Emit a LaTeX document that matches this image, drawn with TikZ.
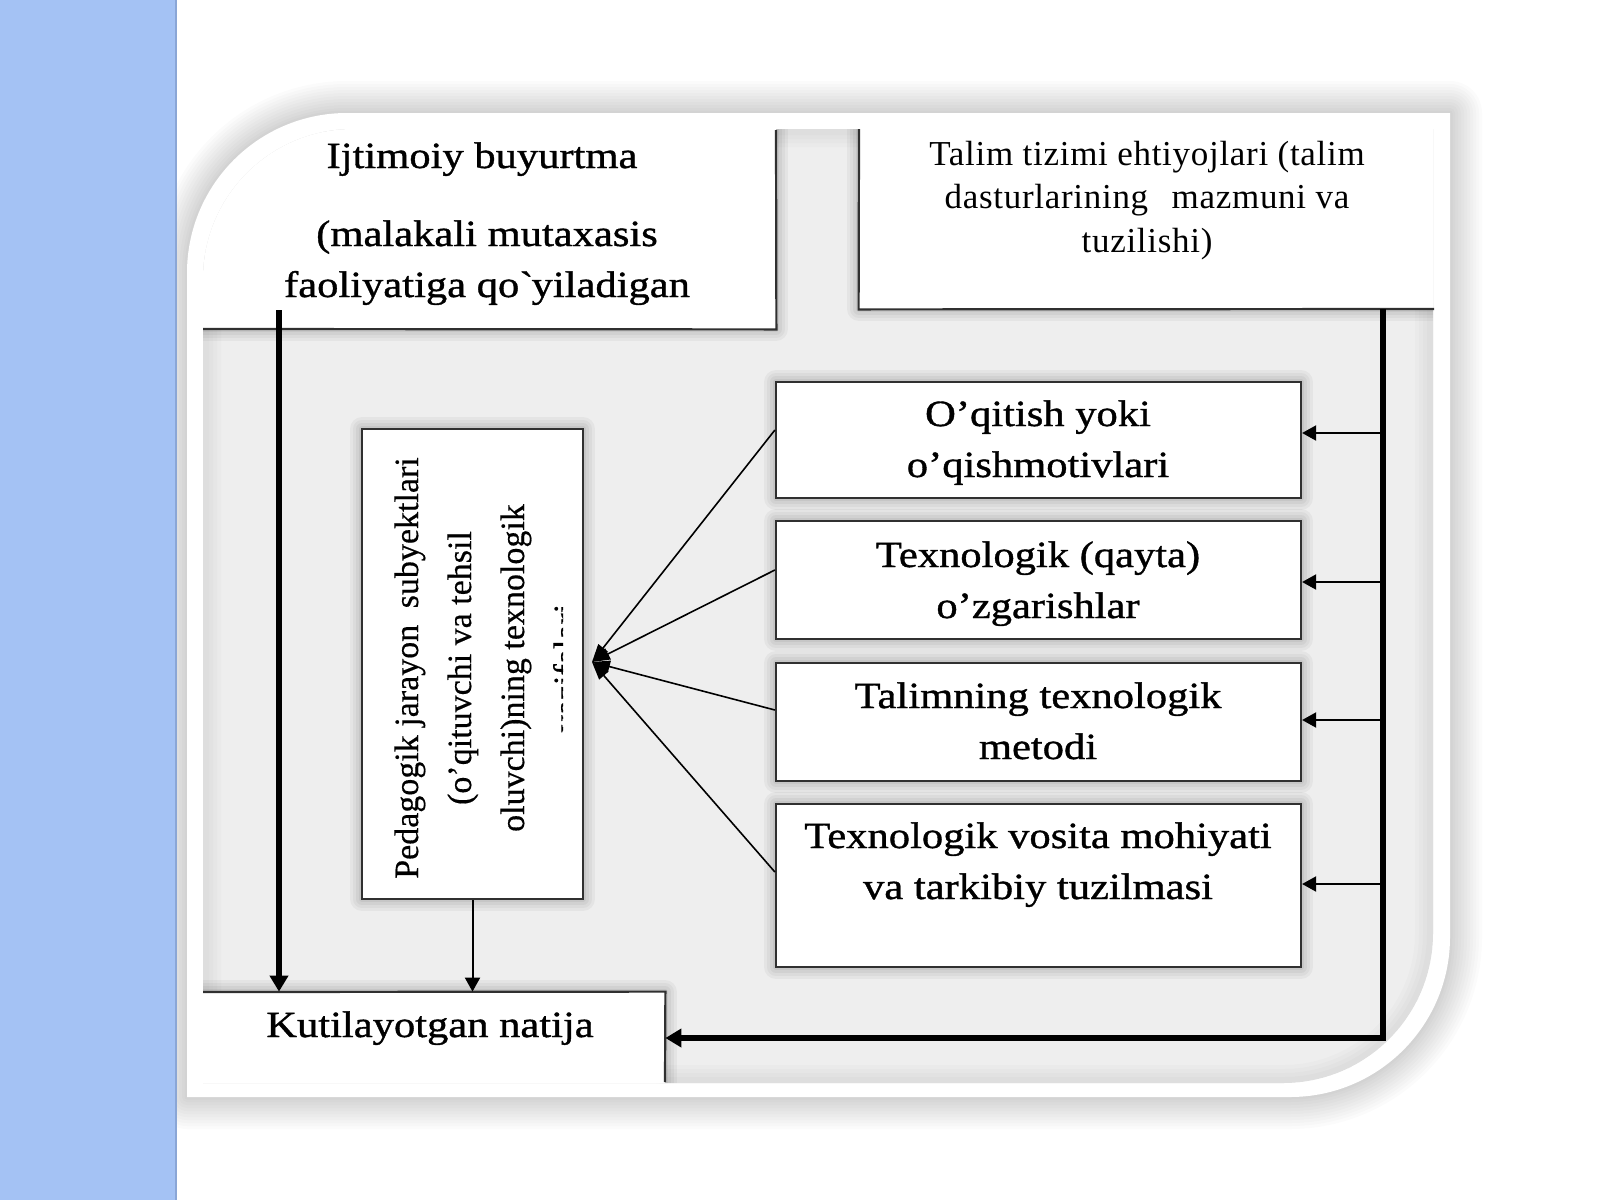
\documentclass[tikz,border=0pt]{standalone}
\usepackage{fontspec}
\setmainfont{Liberation Serif}
\newfontfamily\mainf{Liberation Serif}[FakeStretch=1.15,FakeBold=1.0]
\newfontfamily\lightf{Liberation Serif}[LetterSpace=2]
\newfontfamily\vertf{Liberation Serif}[FakeBold=0.4]
\usetikzlibrary{arrows.meta,fit}
\definecolor{stripblue}{HTML}{A4C2F4}
\definecolor{stripedge}{HTML}{8AA6D6}
\definecolor{innergray}{HTML}{EEEEEE}
\definecolor{boxline}{HTML}{303030}
\newcommand{\outerp}{(187,1097) -- (187,273) arc[start angle=180,end angle=270,radius=160] -- (1450,113) -- (1450,937) arc[start angle=0,end angle=90,radius=160] -- cycle}
\newcommand{\innerp}{(203,1083) -- (203,279) arc[start angle=180,end angle=270,radius=150] -- (1433,129) -- (1433,933) arc[start angle=0,end angle=90,radius=150] -- cycle}
\tikzset{
  softshadow/.style={
    preaction={draw=black, draw opacity=0.04, line width=12pt, line join=round},
    preaction={draw=black, draw opacity=0.04, line width=9pt, line join=round},
    preaction={draw=black, draw opacity=0.045, line width=6pt, line join=round},
    preaction={draw=black, draw opacity=0.05, line width=3pt, line join=round}},
  box/.style={fill=white, draw=boxline, line width=1.1pt, inner sep=0pt, softshadow},
  fillbox/.style={fill=white, inner sep=0pt, softshadow},
  bline/.style={draw=boxline, line width=1.1pt},
  thinarrow/.style={line width=1pt, -{Triangle[length=7pt,width=7.5pt]}},
  thickarrow/.style={line width=2.6pt, -{Triangle[length=8pt,width=9pt]}},
  hubarrow/.style={line width=0.8pt, -{Triangle[length=9pt,width=6pt]}},
  maintxt/.style={font=\mainf\fontsize{18.5}{25.5}\selectfont, align=center, inner sep=0pt},
  lighttxt/.style={font=\lightf\fontsize{17.5}{21.75}\selectfont, align=center, inner sep=0pt},
  verttxt/.style={font=\vertf\fontsize{17}{26.5}\selectfont, align=center, inner sep=0pt}
}
\begin{document}
\begin{tikzpicture}[x=0.5pt,y=-0.5pt]
\useasboundingbox (0,0) rectangle (1600,1200);
\fill[white] (0,0) rectangle (1600,1200);
% frame shadow
\foreach \w in {64,58,52,46,40,34,28,22,16,10,5}
  \draw[black, draw opacity=0.017, line width=\w*0.5pt, line join=round] \outerp;
% blue strip
\fill[stripblue] (0,0) rectangle (177,1200);
\draw[stripedge, line width=1pt] (176,0) -- (176,1200);
% frame
\fill[white] \outerp;
\fill[innergray] \innerp;
\begin{scope}
  \clip \innerp;
  \foreach \w in {36,28,20,12}
    \draw[black, draw opacity=0.015, line width=\w*0.5pt] \innerp;
  \node[fillbox, fit={(193,120) (776,329)}] (tl) {};
  \node[fillbox, fit={(859,120) (1443,309)}] (tr) {};
  \node[fillbox, fit={(193,992) (665,1093)}] (kut) {};
\end{scope}
\coordinate (tlc) at (776,130);
\coordinate (tlb) at (203,329);
\coordinate (trc) at (859,129);
\coordinate (trb) at (1434,309);
\coordinate (kutl) at (203,992);
\coordinate (kutb) at (665,1082);
\draw[bline] (tlc) -- (tl.south east) -- (tlb);
\draw[bline] (trc) -- (tr.south west) -- (trb);
\draw[bline] (kutl) -- (kut.north east) -- (kutb);
% boxes
\node[box, fit={(362,429) (583,899)}] (pb) {};
\node[box, fit={(776,382) (1301,498)}] (b1) {};
\node[box, fit={(776,521) (1301,639)}] (b2) {};
\node[box, fit={(776,663) (1301,781)}] (b3) {};
\node[box, fit={(776,804) (1301,967)}] (b4) {};
% connectors
\coordinate (hub) at (592,662);
\draw[hubarrow] ([yshift=5pt]b1.west) -- (hub);
\draw[hubarrow] ([yshift=5pt]b2.west) -- (hub);
\draw[hubarrow] ([yshift=6pt]b3.west) -- (hub);
\draw[hubarrow] ([yshift=6.75pt]b4.west) -- (hub);
\coordinate (rtop) at (1383,309);
\coordinate (rbot) at (1383,1038);
\draw[thickarrow] (rtop) -- (rbot) -- (rbot -| kut.east);
\coordinate (r1) at (1383,433);
\coordinate (r2) at (1383,582);
\coordinate (r3) at (1383,720);
\coordinate (r4) at (1383,884);
\draw[thinarrow] (r1) -- (r1 -| b1.east);
\draw[thinarrow] (r2) -- (r2 -| b2.east);
\draw[thinarrow] (r3) -- (r3 -| b3.east);
\draw[thinarrow] (r4) -- (r4 -| b4.east);
\coordinate (ls) at (279,310);
\draw[thickarrow] (ls) -- (ls |- kut.north);
\draw[thinarrow] (pb.south) -- (pb.south |- kut.north);
% texts (anchor=base is the baseline of the last line)
\node[maintxt, anchor=base] (tlt1) at (482,168) {Ijtimoiy buyurtma};
\node[maintxt, anchor=base] (tlt2) at (487,297) {(malakali mutaxasis\\faoliyatiga qo\textasciigrave yiladigan};
\node[lighttxt, anchor=base] (trt) at (1147,252) {Talim tizimi ehtiyojlari (talim\\dasturlarining\hspace{7pt} mazmuni va\\tuzilishi)};
\node[maintxt, anchor=base] (t1) at (1038,477) {O’qitish yoki\\o’qishmotivlari};
\node[maintxt, anchor=base] (t2) at (1038,618) {Texnologik (qayta)\\o’zgarishlar};
\node[maintxt, anchor=base] (t3) at (1038,759) {Talimning texnologik\\metodi};
\node[maintxt, anchor=base] (t4) at (1038,899) {Texnologik vosita mohiyati\\va tarkibiy tuzilmasi};
\node[maintxt, anchor=base] (kutt) at (430,1037) {Kutilayotgan natija};
\begin{scope}
  \clip (362,429) rectangle (563,899);
  \node[verttxt, rotate=90, anchor=base] (pbt) at (577,668) {Pedagogik jarayon\hspace{4pt} subyektlari\\(o’qituvchi va tehsil\\oluvchi)ning texnologik\\vazifalari};
\end{scope}
\end{tikzpicture}
\end{document}
